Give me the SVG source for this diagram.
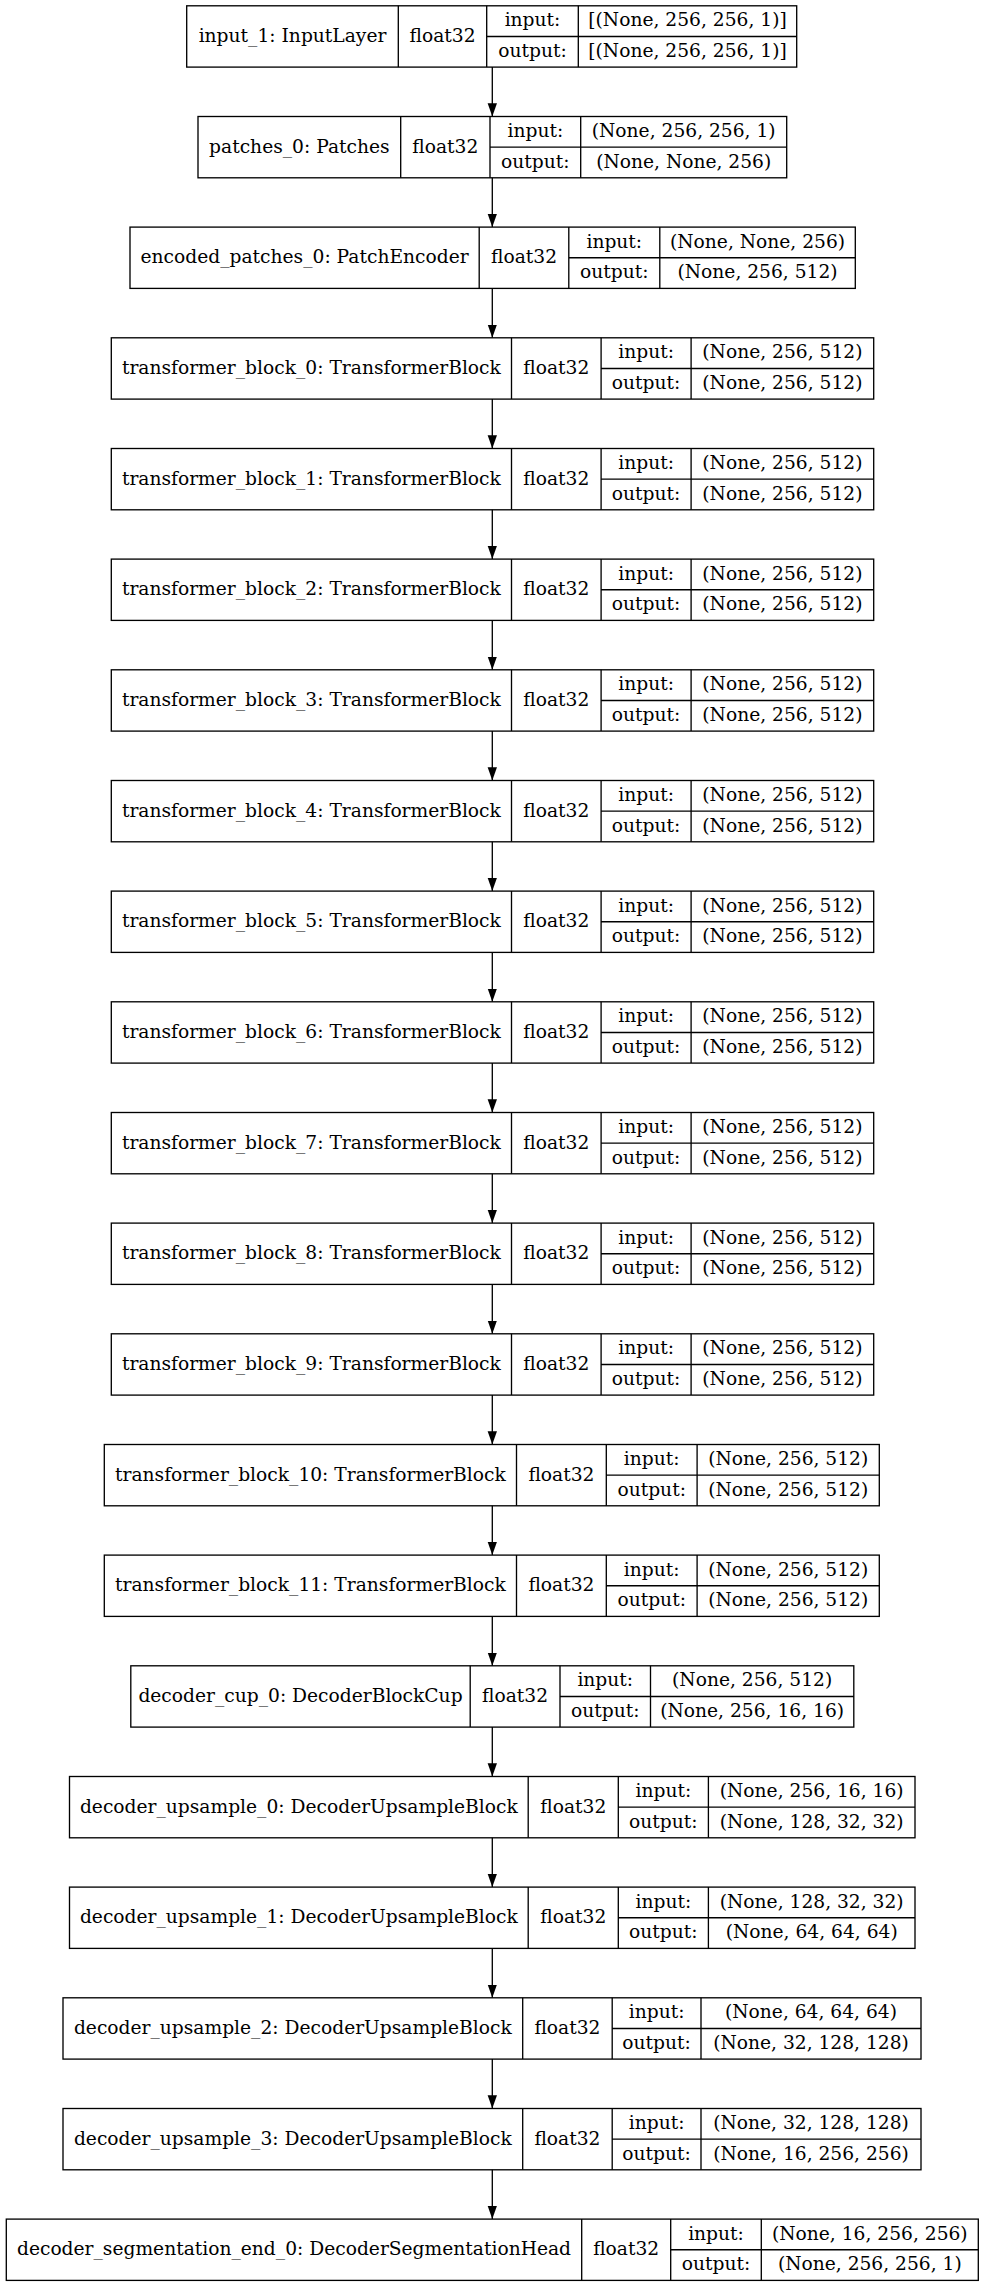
<svg xmlns="http://www.w3.org/2000/svg" width="985" height="2287" viewBox="0 0 985 2287">
<style>
.b{fill:none;stroke:#000;stroke-width:1.33}
.e{fill:none;stroke:#000;stroke-width:1.33}
text{font-family:"DejaVu Serif",serif;font-size:18.67px;text-anchor:middle;fill:#000}
</style>
<defs>
<marker id="arr" markerUnits="userSpaceOnUse" markerWidth="14" markerHeight="10" refX="13.3" refY="4.67" orient="auto">
<path d="M0,0 L13.3,4.67 L0,9.33 Z" fill="#000"/>
</marker>
</defs>
<rect width="985" height="2287" fill="#fff"/>
<g id="edges">
<line class="e" x1="492.3" y1="67.1" x2="492.3" y2="116.5" marker-end="url(#arr)"/>
<line class="e" x1="492.3" y1="177.8" x2="492.3" y2="227.1" marker-end="url(#arr)"/>
<line class="e" x1="492.3" y1="288.4" x2="492.3" y2="337.8" marker-end="url(#arr)"/>
<line class="e" x1="492.3" y1="399.1" x2="492.3" y2="448.5" marker-end="url(#arr)"/>
<line class="e" x1="492.3" y1="509.8" x2="492.3" y2="559.1" marker-end="url(#arr)"/>
<line class="e" x1="492.3" y1="620.4" x2="492.3" y2="669.8" marker-end="url(#arr)"/>
<line class="e" x1="492.3" y1="731.1" x2="492.3" y2="780.5" marker-end="url(#arr)"/>
<line class="e" x1="492.3" y1="841.8" x2="492.3" y2="891.1" marker-end="url(#arr)"/>
<line class="e" x1="492.3" y1="952.4" x2="492.3" y2="1001.8" marker-end="url(#arr)"/>
<line class="e" x1="492.3" y1="1063.1" x2="492.3" y2="1112.5" marker-end="url(#arr)"/>
<line class="e" x1="492.3" y1="1173.8" x2="492.3" y2="1223.1" marker-end="url(#arr)"/>
<line class="e" x1="492.3" y1="1284.4" x2="492.3" y2="1333.8" marker-end="url(#arr)"/>
<line class="e" x1="492.3" y1="1395.1" x2="492.3" y2="1444.5" marker-end="url(#arr)"/>
<line class="e" x1="492.3" y1="1505.8" x2="492.3" y2="1555.1" marker-end="url(#arr)"/>
<line class="e" x1="492.3" y1="1616.4" x2="492.3" y2="1665.8" marker-end="url(#arr)"/>
<line class="e" x1="492.3" y1="1727.1" x2="492.3" y2="1776.5" marker-end="url(#arr)"/>
<line class="e" x1="492.3" y1="1837.8" x2="492.3" y2="1887.1" marker-end="url(#arr)"/>
<line class="e" x1="492.3" y1="1948.4" x2="492.3" y2="1997.8" marker-end="url(#arr)"/>
<line class="e" x1="492.3" y1="2059.1" x2="492.3" y2="2108.5" marker-end="url(#arr)"/>
<line class="e" x1="492.3" y1="2169.8" x2="492.3" y2="2219.1" marker-end="url(#arr)"/>
</g>
<g id="input_1" transform="translate(0,5.8)">
<rect class="b" x="186.7" y="0" width="610" height="61.3"/>
<path class="b" d="M398.3,0V61.3M486.7,0V61.3M578.3,0V61.3M486.7,30.67H796.7"/>
<text x="292.5" y="36">input_1: InputLayer</text><text x="442.5" y="36">float32</text>
<text x="532.5" y="20.5">input:</text><text x="532.5" y="51">output:</text>
<text x="687.5" y="20.5">[(None, 256, 256, 1)]</text><text x="687.5" y="51">[(None, 256, 256, 1)]</text>
</g>
<g id="patches_0" transform="translate(0,116.5)">
<rect class="b" x="198" y="0" width="588.7" height="61.3"/>
<path class="b" d="M400.7,0V61.3M490,0V61.3M580.7,0V61.3M490,30.67H786.7"/>
<text x="299.35" y="36">patches_0: Patches</text><text x="445.35" y="36">float32</text>
<text x="535.35" y="20.5">input:</text><text x="535.35" y="51">output:</text>
<text x="683.7" y="20.5">(None, 256, 256, 1)</text><text x="683.7" y="51">(None, None, 256)</text>
</g>
<g id="encoded_patches_0" transform="translate(0,227.1)">
<rect class="b" x="130" y="0" width="725.3" height="61.3"/>
<path class="b" d="M479.2,0V61.3M568.8,0V61.3M659.8,0V61.3M568.8,30.67H855.3"/>
<text x="304.6" y="36">encoded_patches_0: PatchEncoder</text><text x="524" y="36">float32</text>
<text x="614.3" y="20.5">input:</text><text x="614.3" y="51">output:</text>
<text x="757.55" y="20.5">(None, None, 256)</text><text x="757.55" y="51">(None, 256, 512)</text>
</g>
<g id="transformer_block_0" transform="translate(0,337.8)">
<rect class="b" x="111.3" y="0" width="762.4" height="61.3"/>
<path class="b" d="M511.5,0V61.3M601.1,0V61.3M691.1,0V61.3M601.1,30.67H873.7"/>
<text x="311.4" y="36">transformer_block_0: TransformerBlock</text><text x="556.3" y="36">float32</text>
<text x="646.1" y="20.5">input:</text><text x="646.1" y="51">output:</text>
<text x="782.4" y="20.5">(None, 256, 512)</text><text x="782.4" y="51">(None, 256, 512)</text>
</g>
<g id="transformer_block_1" transform="translate(0,448.5)">
<rect class="b" x="111.3" y="0" width="762.4" height="61.3"/>
<path class="b" d="M511.5,0V61.3M601.1,0V61.3M691.1,0V61.3M601.1,30.67H873.7"/>
<text x="311.4" y="36">transformer_block_1: TransformerBlock</text><text x="556.3" y="36">float32</text>
<text x="646.1" y="20.5">input:</text><text x="646.1" y="51">output:</text>
<text x="782.4" y="20.5">(None, 256, 512)</text><text x="782.4" y="51">(None, 256, 512)</text>
</g>
<g id="transformer_block_2" transform="translate(0,559.1)">
<rect class="b" x="111.3" y="0" width="762.4" height="61.3"/>
<path class="b" d="M511.5,0V61.3M601.1,0V61.3M691.1,0V61.3M601.1,30.67H873.7"/>
<text x="311.4" y="36">transformer_block_2: TransformerBlock</text><text x="556.3" y="36">float32</text>
<text x="646.1" y="20.5">input:</text><text x="646.1" y="51">output:</text>
<text x="782.4" y="20.5">(None, 256, 512)</text><text x="782.4" y="51">(None, 256, 512)</text>
</g>
<g id="transformer_block_3" transform="translate(0,669.8)">
<rect class="b" x="111.3" y="0" width="762.4" height="61.3"/>
<path class="b" d="M511.5,0V61.3M601.1,0V61.3M691.1,0V61.3M601.1,30.67H873.7"/>
<text x="311.4" y="36">transformer_block_3: TransformerBlock</text><text x="556.3" y="36">float32</text>
<text x="646.1" y="20.5">input:</text><text x="646.1" y="51">output:</text>
<text x="782.4" y="20.5">(None, 256, 512)</text><text x="782.4" y="51">(None, 256, 512)</text>
</g>
<g id="transformer_block_4" transform="translate(0,780.5)">
<rect class="b" x="111.3" y="0" width="762.4" height="61.3"/>
<path class="b" d="M511.5,0V61.3M601.1,0V61.3M691.1,0V61.3M601.1,30.67H873.7"/>
<text x="311.4" y="36">transformer_block_4: TransformerBlock</text><text x="556.3" y="36">float32</text>
<text x="646.1" y="20.5">input:</text><text x="646.1" y="51">output:</text>
<text x="782.4" y="20.5">(None, 256, 512)</text><text x="782.4" y="51">(None, 256, 512)</text>
</g>
<g id="transformer_block_5" transform="translate(0,891.1)">
<rect class="b" x="111.3" y="0" width="762.4" height="61.3"/>
<path class="b" d="M511.5,0V61.3M601.1,0V61.3M691.1,0V61.3M601.1,30.67H873.7"/>
<text x="311.4" y="36">transformer_block_5: TransformerBlock</text><text x="556.3" y="36">float32</text>
<text x="646.1" y="20.5">input:</text><text x="646.1" y="51">output:</text>
<text x="782.4" y="20.5">(None, 256, 512)</text><text x="782.4" y="51">(None, 256, 512)</text>
</g>
<g id="transformer_block_6" transform="translate(0,1001.8)">
<rect class="b" x="111.3" y="0" width="762.4" height="61.3"/>
<path class="b" d="M511.5,0V61.3M601.1,0V61.3M691.1,0V61.3M601.1,30.67H873.7"/>
<text x="311.4" y="36">transformer_block_6: TransformerBlock</text><text x="556.3" y="36">float32</text>
<text x="646.1" y="20.5">input:</text><text x="646.1" y="51">output:</text>
<text x="782.4" y="20.5">(None, 256, 512)</text><text x="782.4" y="51">(None, 256, 512)</text>
</g>
<g id="transformer_block_7" transform="translate(0,1112.5)">
<rect class="b" x="111.3" y="0" width="762.4" height="61.3"/>
<path class="b" d="M511.5,0V61.3M601.1,0V61.3M691.1,0V61.3M601.1,30.67H873.7"/>
<text x="311.4" y="36">transformer_block_7: TransformerBlock</text><text x="556.3" y="36">float32</text>
<text x="646.1" y="20.5">input:</text><text x="646.1" y="51">output:</text>
<text x="782.4" y="20.5">(None, 256, 512)</text><text x="782.4" y="51">(None, 256, 512)</text>
</g>
<g id="transformer_block_8" transform="translate(0,1223.1)">
<rect class="b" x="111.3" y="0" width="762.4" height="61.3"/>
<path class="b" d="M511.5,0V61.3M601.1,0V61.3M691.1,0V61.3M601.1,30.67H873.7"/>
<text x="311.4" y="36">transformer_block_8: TransformerBlock</text><text x="556.3" y="36">float32</text>
<text x="646.1" y="20.5">input:</text><text x="646.1" y="51">output:</text>
<text x="782.4" y="20.5">(None, 256, 512)</text><text x="782.4" y="51">(None, 256, 512)</text>
</g>
<g id="transformer_block_9" transform="translate(0,1333.8)">
<rect class="b" x="111.3" y="0" width="762.4" height="61.3"/>
<path class="b" d="M511.5,0V61.3M601.1,0V61.3M691.1,0V61.3M601.1,30.67H873.7"/>
<text x="311.4" y="36">transformer_block_9: TransformerBlock</text><text x="556.3" y="36">float32</text>
<text x="646.1" y="20.5">input:</text><text x="646.1" y="51">output:</text>
<text x="782.4" y="20.5">(None, 256, 512)</text><text x="782.4" y="51">(None, 256, 512)</text>
</g>
<g id="transformer_block_10" transform="translate(0,1444.5)">
<rect class="b" x="104.3" y="0" width="775" height="61.3"/>
<path class="b" d="M516.5,0V61.3M606.3,0V61.3M697.1,0V61.3M606.3,30.67H879.3"/>
<text x="310.4" y="36">transformer_block_10: TransformerBlock</text><text x="561.4" y="36">float32</text>
<text x="651.7" y="20.5">input:</text><text x="651.7" y="51">output:</text>
<text x="788.2" y="20.5">(None, 256, 512)</text><text x="788.2" y="51">(None, 256, 512)</text>
</g>
<g id="transformer_block_11" transform="translate(0,1555.1)">
<rect class="b" x="104.3" y="0" width="775" height="61.3"/>
<path class="b" d="M516.5,0V61.3M606.3,0V61.3M697.1,0V61.3M606.3,30.67H879.3"/>
<text x="310.4" y="36">transformer_block_11: TransformerBlock</text><text x="561.4" y="36">float32</text>
<text x="651.7" y="20.5">input:</text><text x="651.7" y="51">output:</text>
<text x="788.2" y="20.5">(None, 256, 512)</text><text x="788.2" y="51">(None, 256, 512)</text>
</g>
<g id="decoder_cup_0" transform="translate(0,1665.8)">
<rect class="b" x="130.8" y="0" width="723" height="61.3"/>
<path class="b" d="M470.2,0V61.3M560,0V61.3M650.5,0V61.3M560,30.67H853.8"/>
<text x="300.5" y="36">decoder_cup_0: DecoderBlockCup</text><text x="515.1" y="36">float32</text>
<text x="605.25" y="20.5">input:</text><text x="605.25" y="51">output:</text>
<text x="752.15" y="20.5">(None, 256, 512)</text><text x="752.15" y="51">(None, 256, 16, 16)</text>
</g>
<g id="decoder_upsample_0" transform="translate(0,1776.5)">
<rect class="b" x="69.5" y="0" width="845.5" height="61.3"/>
<path class="b" d="M528.2,0V61.3M618.3,0V61.3M708.4,0V61.3M618.3,30.67H915"/>
<text x="298.85" y="36">decoder_upsample_0: DecoderUpsampleBlock</text><text x="573.25" y="36">float32</text>
<text x="663.35" y="20.5">input:</text><text x="663.35" y="51">output:</text>
<text x="811.7" y="20.5">(None, 256, 16, 16)</text><text x="811.7" y="51">(None, 128, 32, 32)</text>
</g>
<g id="decoder_upsample_1" transform="translate(0,1887.1)">
<rect class="b" x="69.5" y="0" width="845.5" height="61.3"/>
<path class="b" d="M528.2,0V61.3M618.3,0V61.3M708.4,0V61.3M618.3,30.67H915"/>
<text x="298.85" y="36">decoder_upsample_1: DecoderUpsampleBlock</text><text x="573.25" y="36">float32</text>
<text x="663.35" y="20.5">input:</text><text x="663.35" y="51">output:</text>
<text x="811.7" y="20.5">(None, 128, 32, 32)</text><text x="811.7" y="51">(None, 64, 64, 64)</text>
</g>
<g id="decoder_upsample_2" transform="translate(0,1997.8)">
<rect class="b" x="63" y="0" width="858" height="61.3"/>
<path class="b" d="M522.7,0V61.3M612.2,0V61.3M701,0V61.3M612.2,30.67H921"/>
<text x="292.85" y="36">decoder_upsample_2: DecoderUpsampleBlock</text><text x="567.45" y="36">float32</text>
<text x="656.6" y="20.5">input:</text><text x="656.6" y="51">output:</text>
<text x="811" y="20.5">(None, 64, 64, 64)</text><text x="811" y="51">(None, 32, 128, 128)</text>
</g>
<g id="decoder_upsample_3" transform="translate(0,2108.5)">
<rect class="b" x="63" y="0" width="858" height="61.3"/>
<path class="b" d="M522.7,0V61.3M612.2,0V61.3M701,0V61.3M612.2,30.67H921"/>
<text x="292.85" y="36">decoder_upsample_3: DecoderUpsampleBlock</text><text x="567.45" y="36">float32</text>
<text x="656.6" y="20.5">input:</text><text x="656.6" y="51">output:</text>
<text x="811" y="20.5">(None, 32, 128, 128)</text><text x="811" y="51">(None, 16, 256, 256)</text>
</g>
<g id="decoder_segmentation_end_0" transform="translate(0,2219.1)">
<rect class="b" x="6.3" y="0" width="972" height="61.3"/>
<path class="b" d="M581.7,0V61.3M670.7,0V61.3M761.3,0V61.3M670.7,30.67H978.3"/>
<text x="294" y="36">decoder_segmentation_end_0: DecoderSegmentationHead</text><text x="626.2" y="36">float32</text>
<text x="716" y="20.5">input:</text><text x="716" y="51">output:</text>
<text x="869.8" y="20.5">(None, 16, 256, 256)</text><text x="869.8" y="51">(None, 256, 256, 1)</text>
</g>
</svg>
